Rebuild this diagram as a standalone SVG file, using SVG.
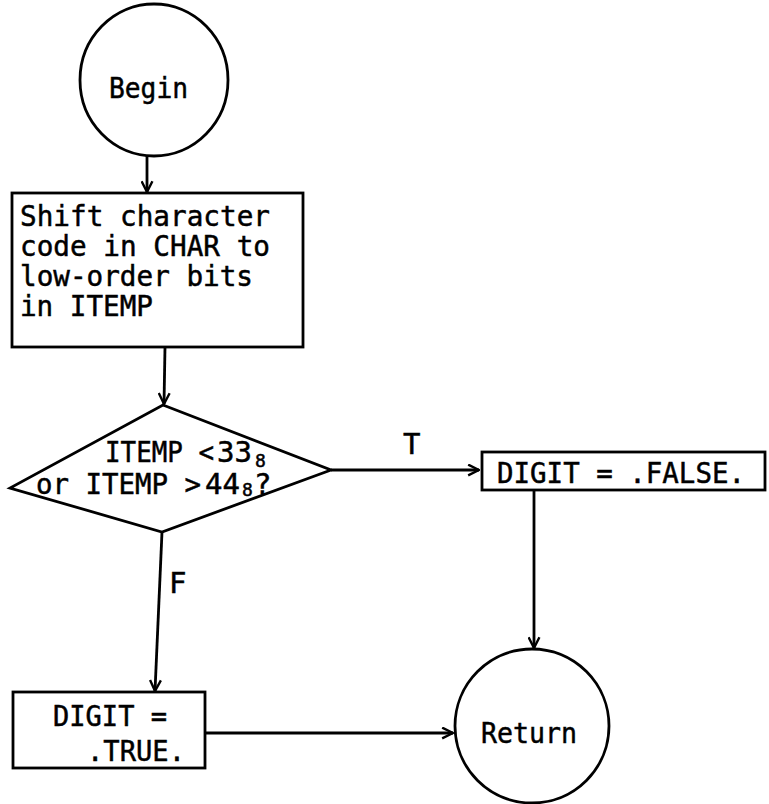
<svg xmlns="http://www.w3.org/2000/svg" width="769" height="804" viewBox="0 0 769 804">
<defs>
<marker id="arr" viewBox="0 0 12 12" refX="11" refY="6" markerWidth="13" markerHeight="13" markerUnits="userSpaceOnUse" orient="auto">
<path d="M1,1 L11,6 L1,11" fill="none" stroke="#000" stroke-width="2.2"/>
</marker>
<style>
.shape{fill:#fff;stroke:#000;stroke-width:2.8}
.line{fill:none;stroke:#000;stroke-width:2.8}
text{font-family:"DejaVu Sans Mono","Liberation Mono",monospace;font-size:29px;fill:#000;stroke:#000;stroke-width:0.5}
.sub{font-size:18px}
</style>
</defs>
<rect width="769" height="804" fill="#fff"/>
<g id="connectors">
<line class="line" x1="147" y1="156" x2="147" y2="192" marker-end="url(#arr)"/>
<line class="line" x1="165" y1="347" x2="164" y2="404" marker-end="url(#arr)"/>
<line class="line" x1="331" y1="470" x2="479" y2="470" marker-end="url(#arr)"/>
<line class="line" x1="162" y1="532" x2="155" y2="691" marker-end="url(#arr)"/>
<line class="line" x1="534" y1="490" x2="534" y2="648" marker-end="url(#arr)"/>
<line class="line" x1="205" y1="733" x2="453" y2="733" marker-end="url(#arr)"/>
<text x="403" y="454">T</text>
<text x="169" y="593">F</text>
</g>
<g id="begin">
<ellipse class="shape" cx="154" cy="80" rx="74" ry="76"/>
<text x="109" y="98" textLength="79" lengthAdjust="spacingAndGlyphs">Begin</text>
</g>
<g id="shift">
<rect class="shape" x="12" y="193" width="291" height="154"/>
<text x="20" y="226" textLength="250" lengthAdjust="spacingAndGlyphs">Shift character</text>
<text x="20" y="256" textLength="250" lengthAdjust="spacingAndGlyphs">code in CHAR to</text>
<text x="20" y="286" textLength="233" lengthAdjust="spacingAndGlyphs">low-order bits</text>
<text x="20" y="316" textLength="133" lengthAdjust="spacingAndGlyphs">in ITEMP</text>
</g>
<g id="decision">
<polygon class="shape" points="163,405 331,470 162,532 10,488"/>
<text x="105" y="462"><tspan textLength="109" lengthAdjust="spacingAndGlyphs">ITEMP &lt;</tspan><tspan x="217">33</tspan><tspan class="sub" x="255" dy="5">8</tspan></text>
<text x="36" y="494"><tspan textLength="165" lengthAdjust="spacingAndGlyphs">or ITEMP &gt;</tspan><tspan x="205">44</tspan><tspan class="sub" x="242" dy="2">8</tspan><tspan x="254" dy="-2">?</tspan></text>
</g>
<g id="false">
<rect class="shape" x="482" y="452" width="283" height="38"/>
<text x="497" y="483" textLength="248" lengthAdjust="spacingAndGlyphs">DIGIT = .FALSE.</text>
</g>
<g id="true">
<rect class="shape" x="13" y="692" width="192" height="76"/>
<text x="53" y="726" textLength="114" lengthAdjust="spacingAndGlyphs">DIGIT =</text>
<text x="87" y="761" textLength="98" lengthAdjust="spacingAndGlyphs">.TRUE.</text>
</g>
<g id="return">
<ellipse class="shape" cx="532" cy="726" rx="77" ry="77"/>
<text x="481" y="743" textLength="96" lengthAdjust="spacingAndGlyphs">Return</text>
</g>
</svg>
